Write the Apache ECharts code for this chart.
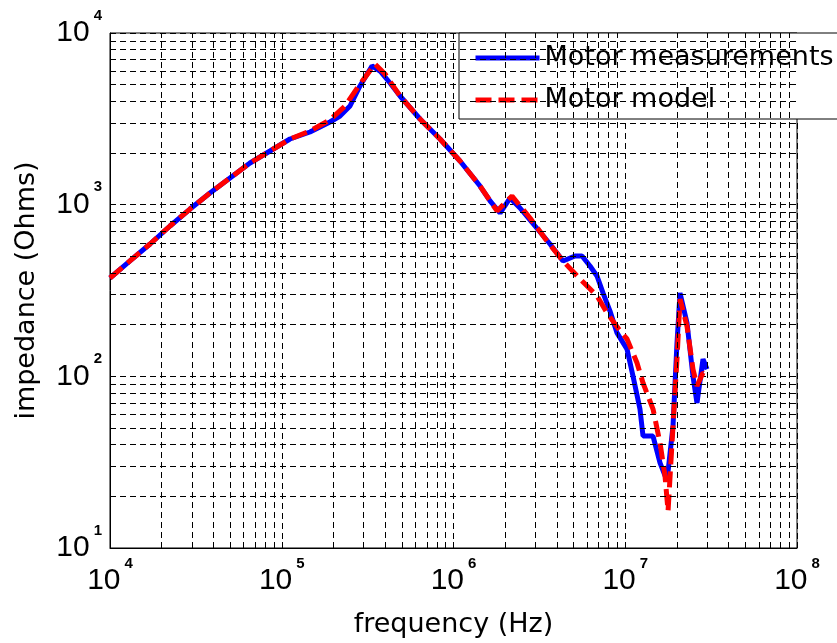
<!DOCTYPE html>
<html>
<head>
<meta charset="utf-8">
<script src="https://cdn.jsdelivr.net/npm/echarts@6/dist/echarts.min.js"></script>
<style>
html,body{margin:0;padding:0;background:#fff;}
#chart{width:837px;height:643px;}
</style>
</head>
<body>
<div id="chart"></div>
<script>
// Frequency (Hz) and impedance (Ohms)
const measFreq = [10000, 13070, 17100, 22360, 29230, 38210, 49960, 65330, 85430, 111700, 146000, 190900, 218400, 249700, 285500, 335400, 373400, 426900, 488200, 638300, 834500, 1091000, 1427000, 1632000, 1866000, 2133000, 2439000, 2983000, 3648000, 4341000, 5098000, 5601000, 6233000, 6847000, 7421000, 8151000, 8954000, 10240000, 11100000, 12180000, 12690000, 14510000, 15940000, 17510000, 18970000, 20010000, 20840000, 22880000, 24800000, 26170000, 28360000, 29920000];
const measZ = [374, 470, 590, 751, 943, 1169, 1430, 1749, 2054, 2413, 2650, 3031, 3285, 3756, 4913, 6424, 6006, 5114, 4296, 3155, 2413, 1797, 1284, 1051, 894, 1093, 956, 751, 590, 470, 502, 502, 439, 384, 306, 240, 179, 144, 100, 64.5, 44.9, 44.9, 31.3, 24.6, 51.4, 156, 306, 205, 100, 69.9, 126, 110];

const modelFreq = [10000, 13070, 17100, 22360, 29230, 38210, 49960, 65330, 85430, 111700, 146000, 190900, 233600, 285500, 349100, 399200, 488200, 638300, 834500, 1091000, 1427000, 1792000, 2191000, 2789000, 3503000, 4341000, 5452000, 6847000, 7829000, 9320000, 10240000, 11700000, 12690000, 14510000, 15940000, 17040000, 17750000, 18720000, 20010000, 20840000, 22880000, 24800000, 26170000, 28360000, 29920000];
const modelZ = [374, 470, 590, 751, 943, 1169, 1430, 1749, 2054, 2413, 2687, 3113, 3756, 5046, 6597, 5769, 4296, 3155, 2413, 1797, 1284, 919, 1123, 836, 614, 470, 369, 294, 234, 184, 165, 120, 91.5, 64.5, 40.9, 26.3, 16.4, 40.9, 126, 282, 196, 110, 87.9, 105, 100];

const seriesNames = ['Motor measurements', 'Motor model'];
const xTitle = 'frequency (Hz)';
const yTitle = 'impedance (Ohms)';
const xDecades = [4, 5, 6, 7, 8];
const yDecades = [1, 2, 3, 4];

// minor grid positions (2..9 x 10^n)
const xMinor = [], yMinor = [];
for (let d = xDecades[0]; d < xDecades[xDecades.length - 1]; d++) for (let k = 2; k <= 9; k++) xMinor.push(k * Math.pow(10, d));
for (let d = yDecades[0]; d < yDecades[yDecades.length - 1]; d++) for (let k = 2; k <= 9; k++) yMinor.push(k * Math.pow(10, d));

const gridLine = { color: '#000', width: 1, type: [6, 4] };
const labelFmt = v => '{b|10}{s|' + Math.round(Math.log10(v)) + '}';
const rich = {
  b: { fontFamily: 'Liberation Sans', fontSize: 30, color: '#000', lineHeight: 50, verticalAlign: 'middle' },
  s: { fontFamily: 'Liberation Sans', fontSize: 15, fontWeight: 'bold', color: '#000', lineHeight: 15, padding: [0, 0, 0, 4], verticalAlign: 'top' }
};

const chart = echarts.init(document.getElementById('chart'), null, { renderer: 'canvas' });
chart.setOption({
  animation: false,
  backgroundColor: '#fff',
  grid: { left: 110, right: 40, top: 33, bottom: 89, show: true, borderColor: '#000', borderWidth: 1, backgroundColor: 'transparent' },
  legend: {
    data: seriesNames, orient: 'vertical', left: 459, top: 33,
    padding: [10, 12, 4, 14], itemGap: 12, itemWidth: 64, itemHeight: 14,
    borderColor: '#000', borderWidth: 1, borderRadius: 0, backgroundColor: '#fff',
    selectedMode: false,
    lineStyle: { width: 'inherit' },
    itemStyle: { opacity: 0, borderWidth: 0 },
    textStyle: { fontFamily: 'DejaVu Sans', fontSize: 27, color: '#000', lineHeight: 30 }
  },
  xAxis: {
    type: 'log', logBase: 10, min: 1e4, max: 1e8,
    name: xTitle, nameLocation: 'middle', nameGap: 63,
    nameTextStyle: { fontFamily: 'DejaVu Sans', fontSize: 27, color: '#000' },
    axisLine: { show: true, lineStyle: { color: '#000', width: 1 } },
    axisTick: { show: true, inside: true, length: 6, lineStyle: { color: '#000' } },
    axisLabel: { formatter: labelFmt, rich: rich, margin: 8, color: '#000' },
    splitLine: { show: true, lineStyle: gridLine }
  },
  yAxis: {
    type: 'log', logBase: 10, min: 10, max: 1e4,
    name: yTitle, nameLocation: 'middle', nameGap: 70,
    nameTextStyle: { fontFamily: 'DejaVu Sans', fontSize: 27, color: '#000' },
    axisLine: { show: true, lineStyle: { color: '#000', width: 1 } },
    axisTick: { show: true, inside: true, length: 6, lineStyle: { color: '#000' } },
    axisLabel: { formatter: labelFmt, rich: rich, margin: 8, color: '#000' },
    splitLine: { show: true, lineStyle: gridLine }
  },
  series: [
    {
      name: 'minor-grid', type: 'line', data: [], z: 1, silent: true, symbol: 'none',
      markLine: {
        silent: true, symbol: ['none', 'none'], animation: false,
        label: { show: false }, emphasis: { disabled: true },
        lineStyle: gridLine,
        data: xMinor.map(v => ({ xAxis: v })).concat(yMinor.map(v => ({ yAxis: v })))
      }
    },
    {
      name: seriesNames[0], type: 'line', z: 3, symbol: 'none', showSymbol: false,
      data: measFreq.map((f, i) => [f, measZ[i]]),
      lineStyle: { color: '#0000ff', width: 5, type: 'solid' },
      itemStyle: { color: '#0000ff' }
    },
    {
      name: seriesNames[1], type: 'line', z: 4, symbol: 'none', showSymbol: false,
      data: modelFreq.map((f, i) => [f, modelZ[i]]),
      lineStyle: { color: '#ff0000', width: 5, type: [16, 7] },
      itemStyle: { color: '#ff0000' }
    }
  ]
});
</script>
</body>
</html>
